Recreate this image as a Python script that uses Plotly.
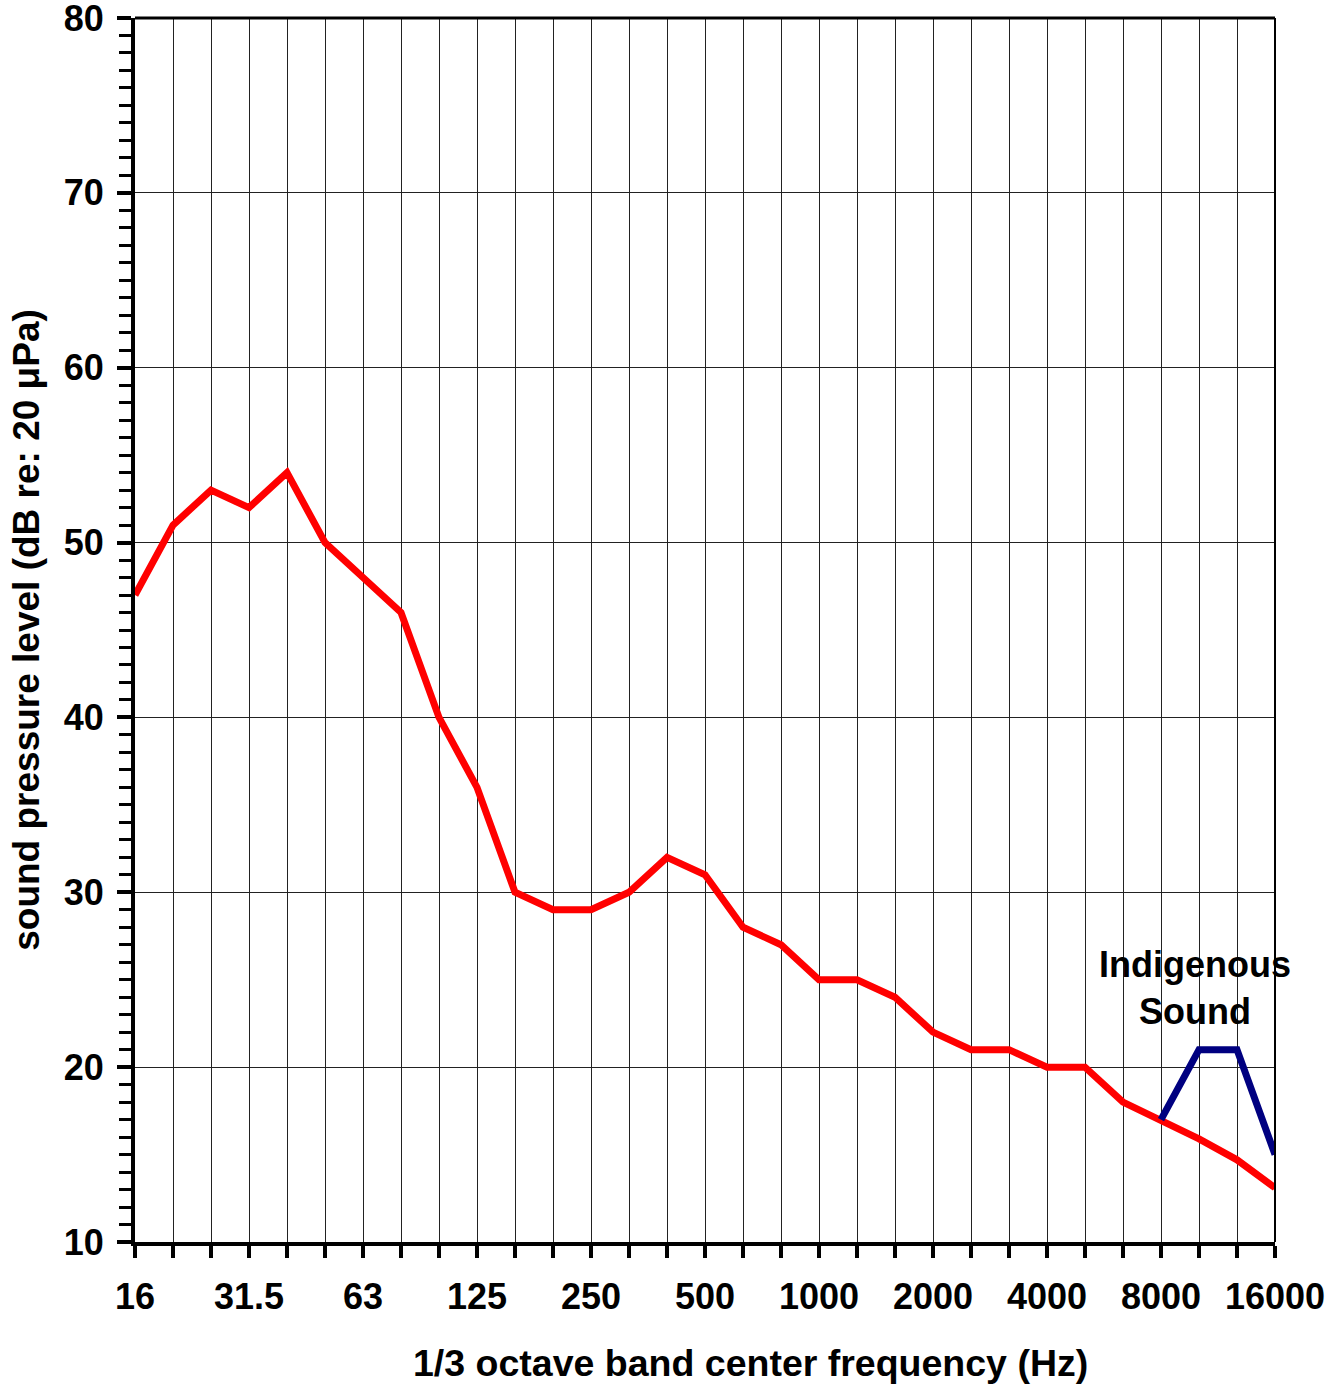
import plotly.graph_objects as go

# ── 1/3 octave bands and levels ─────────────────────────────
BANDS = ["16", "20", "25", "31.5", "40", "50", "63", "80", "100", "125",
         "160", "200", "250", "315", "400", "500", "630", "800", "1000", "1250",
         "1600", "2000", "2500", "3150", "4000", "5000", "6300", "8000", "10000", "12500",
         "16000"]
LABELED = ["16", "31.5", "63", "125", "250", "500", "1000", "2000", "4000", "8000", "16000"]

SPL = [47, 51, 53, 52, 54, 50, 48, 46, 40, 36,
       30, 29, 29, 30, 32, 31, 28, 27, 25, 25,
       24, 22, 21, 21, 20, 20, 18, 17, 15.9, 14.7,
       13.1]

INDIG_BANDS = ["8000", "10000", "12500", "16000"]
INDIG_SPL = [17, 21, 21, 15]

RED = "#ff0000"
NAVY = "#000080"
FONT = "Liberation Sans, Arial, sans-serif"

fig = go.Figure()
fig.add_trace(go.Scatter(x=BANDS, y=SPL, mode="lines",
                         line=dict(color=RED, width=7), cliponaxis=False))
fig.add_trace(go.Scatter(x=INDIG_BANDS, y=INDIG_SPL, mode="lines",
                         line=dict(color=NAVY, width=7), cliponaxis=False))

fig.add_annotation(x=BANDS.index("12500"), y=24.5, xref="x", yref="y", xshift=-42,
                   text="Indigenous<br>Sound", showarrow=False,
                   font=dict(size=36, color="black", family=FONT, weight="bold"),
                   align="center")

# x title sits a bit right of the plot centre in the original
fig.add_annotation(x=0.540, y=-0.099, xref="paper", yref="paper",
                   xanchor="center", yanchor="middle",
                   text="1/3 octave band center frequency (Hz)", showarrow=False,
                   font=dict(size=37.5, color="black", family=FONT, weight="bold"))

# top and right borders
fig.add_shape(type="line", xref="paper", yref="paper", x0=0, x1=1, y0=1, y1=1,
              line=dict(color="black", width=3))
fig.add_shape(type="line", xref="paper", yref="paper", x0=1, x1=1, y0=0, y1=1,
              line=dict(color="black", width=2))

fig.update_layout(
    width=1341, height=1386,
    paper_bgcolor="white", plot_bgcolor="white",
    margin=dict(l=135, r=66, t=18, b=144),
    showlegend=False,
    font=dict(family=FONT, color="black", size=36, weight="bold"),
    xaxis=dict(
        type="category", categoryorder="array", categoryarray=BANDS,
        range=[0, len(BANDS) - 1], automargin=False,
        tickmode="array", tickvals=BANDS,
        ticktext=[b if b in LABELED else "" for b in BANDS],
        ticks="outside", ticklen=12, tickwidth=4, tickcolor="black",
        ticklabelstandoff=8, ticklabeloverflow="allow",
        showgrid=True, gridcolor="#222222", gridwidth=1,
        showline=True, linecolor="black", linewidth=4,
        tickfont=dict(size=36, family=FONT, weight="bold"),
        zeroline=False,
    ),
    yaxis=dict(
        range=[10, 80], automargin=False,
        tickmode="linear", tick0=10, dtick=10,
        ticks="outside", ticklen=14, tickwidth=4, tickcolor="black",
        ticklabelstandoff=6, ticklabeloverflow="allow",
        minor=dict(dtick=1, ticks="outside", ticklen=12, tickwidth=3,
                   tickcolor="black", showgrid=False),
        showgrid=True, gridcolor="#222222", gridwidth=1,
        showline=True, linecolor="black", linewidth=4,
        tickfont=dict(size=36, family=FONT, weight="bold"),
        title=dict(text="sound pressure level (dB re: 20 μPa)",
                   font=dict(size=37, family=FONT, weight="bold"), standoff=14),
        zeroline=False,
    ),
)

# drop the default 8px body margin so the figure fills the window exactly
fig.write_html("out.html", config={"displayModeBar": False},
               post_script="document.body.style.margin='0';")
